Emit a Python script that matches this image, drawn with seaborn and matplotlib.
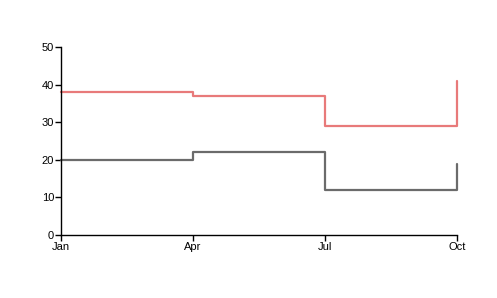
import matplotlib
matplotlib.use("Agg")
import matplotlib.pyplot as plt
import seaborn as sns
import pandas as pd

months = ["Jan", "Apr", "Jul", "Oct"]
month_pos = [0, 3, 6, 9]
red_values = [38, 37, 29, 41]
gray_values = [20, 22, 12, 19]
y_ticks = [0, 10, 20, 30, 40, 50]

sns.set_theme(style="white")
plt.rcParams['font.family'] = ['Liberation Sans', 'DejaVu Sans']

df = pd.DataFrame({
    "x": month_pos * 2,
    "y": red_values + gray_values,
    "series": ["A"] * 4 + ["B"] * 4,
})

fig = plt.figure(figsize=(4.97, 2.98), dpi=100)
ax = fig.add_axes([61/497, 1-235/298, (457-61)/497, (235-47)/298])
sns.lineplot(data=df, x="x", y="y", hue="series",
             palette={"A": "#e87a7a", "B": "#6b6b6b"},
             drawstyle="steps-post", linewidth=1.6, legend=False, ax=ax)
for ln in ax.get_lines():
    ln.set_clip_on(False)

ax.set_xlim(0, 9)
ax.set_ylim(0, 50)
ax.set_xticks(month_pos)
ax.set_xticklabels(months)
ax.set_yticks(y_ticks)
ax.set_xlabel("")
ax.set_ylabel("")
for s in ["top", "right"]:
    ax.spines[s].set_visible(False)
for s in ["left", "bottom"]:
    ax.spines[s].set_color("black")
    ax.spines[s].set_linewidth(1.0)
ax.tick_params(axis="both", which="both", direction="out", length=4, width=1,
               color="black", labelsize=8, labelcolor="black", pad=1,
               bottom=True, left=True)
fig.savefig("out.png", dpi=100)
